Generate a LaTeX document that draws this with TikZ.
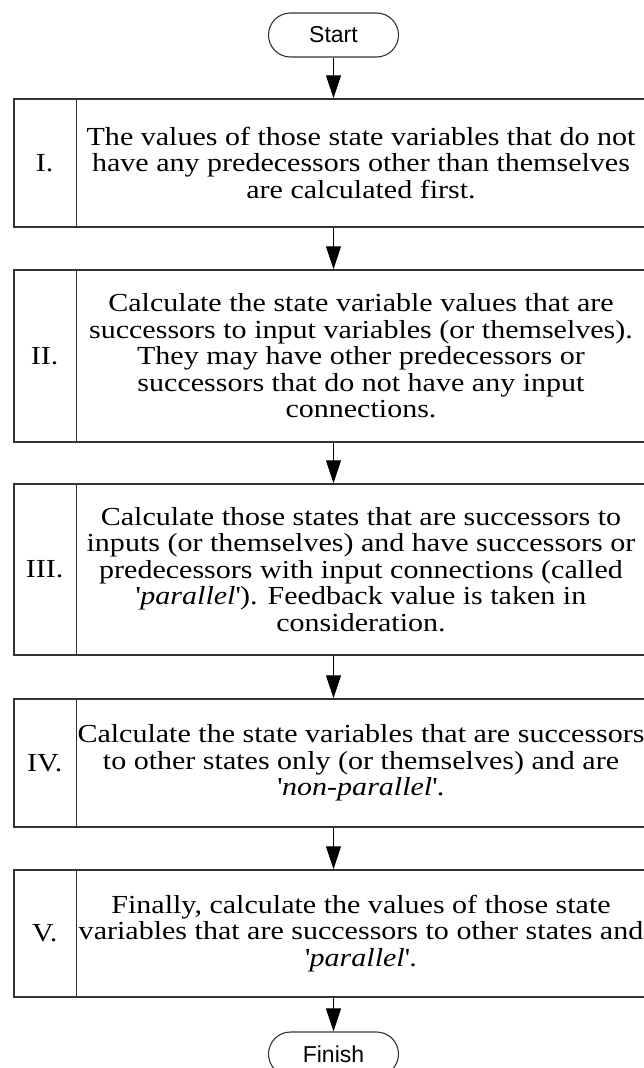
\documentclass[tikz,border=0pt]{standalone}
\usepackage{fontspec}
\setmainfont{Liberation Serif}[FakeStretch=1.155]
\setsansfont{Liberation Sans}
\usetikzlibrary{arrows.meta}
\definecolor{edge}{HTML}{333333}
\tikzset{
  terminal/.style={draw=edge, line width=1.1pt, rounded corners=22pt,
    minimum width=130pt, minimum height=44pt, inner sep=0pt,
    font=\sffamily\fontsize{23}{26}\selectfont},
  stepbox/.style={draw=edge, line width=1.5pt, minimum width=631pt, inner sep=0pt},
  numeral/.style={font=\fontsize{26}{26.5}\selectfont, inner sep=0pt},
  body/.style={align=center, inner sep=0pt, font=\fontsize{26}{26.5}\selectfont},
  flow/.style={draw=black, line width=1pt, -{Triangle[length=23pt,width=15pt]}}
}
\newcommand{\sq}{\textquotesingle}
\begin{document}
\begin{tikzpicture}[x=1pt,y=-1pt]
  \useasboundingbox (0,0) rectangle (644,1068);

  % terminals
  \node[terminal] (start) at (333.5,35) {Start};
  \node[terminal] (finish) at (333.5,1054) {Finish};

  % step boxes: frame, numeral column and description
  \node[stepbox, minimum height=128pt] (b1) at (329.5,163) {};
  \node[stepbox, minimum height=172pt] (b2) at (329.5,356) {};
  \node[stepbox, minimum height=171pt] (b3) at (329.5,569.5) {};
  \node[stepbox, minimum height=128pt] (b4) at (329.5,763) {};
  \node[stepbox, minimum height=127pt] (b5) at (329.5,933.5) {};

  \foreach \b/\r in {b1/I., b2/II., b3/III., b4/IV., b5/V.}{
    \draw[edge, line width=1.5pt] ([xshift=63pt]\b.north west) -- ([xshift=63pt]\b.south west);
    \node[numeral] at ([xshift=31.5pt]\b.west) {\r};
  }

  \node[body] (t1) at (361,163) {The values of those state variables that do not\\
    have any predecessors other than themselves\\ are calculated first.};
  \node[body] (t2) at (361,356) {Calculate the state variable values that are\\
    successors to input variables (or themselves).\\ They may have other predecessors or\\
    successors that do not have any input\\ connections.};
  \node[body] (t3) at (361,569.5) {Calculate those states that are successors to\\
    inputs (or themselves) and have successors or\\ predecessors with input connections (called\\
    \sq\textit{parallel}\sq). Feedback value is taken in\\ consideration.};
  \node[body] (t4) at (361,763) {Calculate the state variables that are successors\\
    to other states only (or themselves) and are\\ \sq\textit{non-parallel}\sq.};
  \node[body] (t5) at (361,933.5) {Finally, calculate the values of those state\\
    variables that are successors to other states and\\ \sq\textit{parallel}\sq.};

  % connectors
  \draw[flow] (start) -- (start |- b1.north);
  \draw[flow] (start |- b1.south) -- (start |- b2.north);
  \draw[flow] (start |- b2.south) -- (start |- b3.north);
  \draw[flow] (start |- b3.south) -- (start |- b4.north);
  \draw[flow] (start |- b4.south) -- (start |- b5.north);
  \draw[flow] (start |- b5.south) -- (finish);
\end{tikzpicture}
\end{document}
